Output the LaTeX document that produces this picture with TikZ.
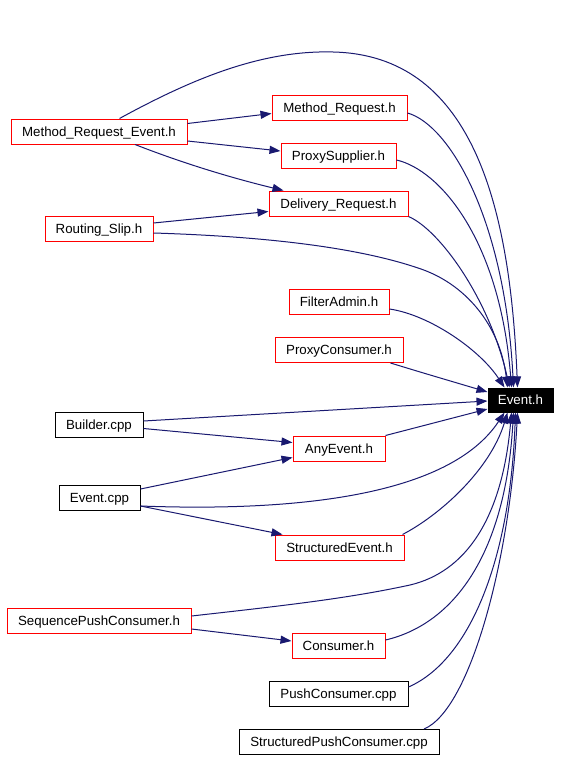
\documentclass[tikz,border=0pt]{standalone}
\usepackage{fontspec}
\setmainfont{Liberation Sans}
\usetikzlibrary{arrows.meta,calc}
\definecolor{edgeblue}{HTML}{191970}
\definecolor{boxred}{HTML}{FF0000}
\tikzset{
  filebox/.style={draw=black,line width=1pt,minimum height=25pt,inner sep=0pt,
    text height=9.5pt,text depth=0pt,
    font=\fontsize{13.3}{16}\selectfont,text=black,fill=white},
  redbox/.style={filebox,draw=boxred},
  mainbox/.style={filebox,fill=black,text=white,draw=black},
  dep/.style={draw=edgeblue,line width=1pt,-{Triangle[length=11pt,width=8pt]},fill=none}
}
\begin{document}
\begin{tikzpicture}[x=1pt,y=-1pt]
\useasboundingbox[fill=white] (0,0) rectangle (560,760);
% nodes
\node[redbox,minimum width=176pt] (mre) at (99,131.5) {Method\_Request\_Event.h};
\node[redbox,minimum width=135pt] (mr) at (339.5,107.5) {Method\_Request.h};
\node[redbox,minimum width=115pt] (ps) at (338.5,155.5) {ProxySupplier.h};
\node[redbox,minimum width=139pt] (dr) at (338.5,203.5) {Delivery\_Request.h};
\node[redbox,minimum width=108pt] (rs) at (99,228.5) {Routing\_Slip.h};
\node[redbox,minimum width=100pt] (fa) at (339,302) {FilterAdmin.h};
\node[redbox,minimum width=128pt] (pc) at (339,350) {ProxyConsumer.h};
\node[mainbox,minimum width=65pt,minimum height=24pt] (ev) at (520.5,400) {Event.h};
\node[filebox,minimum width=88pt] (bc) at (99,424.5) {Builder.cpp};
\node[redbox,minimum width=92pt] (ae) at (339,448.5) {AnyEvent.h};
\node[filebox,minimum width=81pt] (ec) at (99.5,498) {Event.cpp};
\node[redbox,minimum width=129pt] (se) at (339.5,547.5) {StructuredEvent.h};
\node[redbox,minimum width=184pt] (spc) at (99,620.5) {SequencePushConsumer.h};
\node[redbox,minimum width=93pt] (co) at (338.5,646) {Consumer.h};
\node[filebox,minimum width=139pt] (pu) at (338.5,694) {PushConsumer.cpp};
\node[filebox,minimum width=200pt] (spu) at (339,742) {StructuredPushConsumer.cpp};
% short edges
\draw[dep] ($(mre.east)+(0,-8)$) -- ($(mr.west)+(0,6)$);
\draw[dep] ($(mre.east)+(0,9.5)$) -- ($(ps.west)+(0,-4.5)$);
\draw[dep] ($(mre.south)+(36,0)$) .. controls (190,166) and (240,180) .. ($(dr.north west)+(15,0)$);
\draw[dep] ($(rs.east)+(0,-5.5)$) -- ($(dr.west)+(0,8)$);
\draw[dep] ($(bc.east)+(0,4)$) -- ($(ae.west)+(0,-6)$);
\draw[dep] ($(ec.east)+(0,-9)$) -- ($(ae.west)+(0,9)$);
\draw[dep] ($(ec.east)+(0,8)$) -- ($(se.north west)+(8,0)$);
\draw[dep] ($(spc.east)+(0,8.5)$) -- ($(co.west)+(0,-5)$);
% edges to Event.h (top)
\draw[dep] ($(mre.north west)+(109,0)$) .. controls (190,80) and (260,50) .. (333,52)
  .. controls (470,55) and (510,200) .. ($(ev.north west)+(30,0)$);
\draw[dep] ($(mr.east)+(0,5.5)$) .. controls (450,125) and (505,220) .. ($(ev.north west)+(26,0)$);
\draw[dep] ($(ps.east)+(0,4.5)$) .. controls (440,170) and (500,240) .. ($(ev.north west)+(24,0)$);
\draw[dep] (dr.south east) .. controls (440,230) and (490,300) .. ($(ev.north west)+(22,0)$);
\draw[dep] ($(rs.east)+(0,4.5)$) .. controls (250,236) and (350,245) .. (418,268)
  .. controls (465,283) and (500,325) .. ($(ev.north west)+(20,0)$);
\draw[dep] ($(fa.east)+(0,7)$) .. controls (430,315) and (480,350) .. ($(ev.north west)+(17,0)$);
\draw[dep] ($(pc.south east)+(-13,0)$) .. controls (420,372) .. ($(ev.west)+(0,-8)$);
% edges to Event.h (left, bottom)
\draw[dep] ($(bc.east)+(0,-3.5)$) -- ($(ev.west)+(0,1)$);
\draw[dep] (ae.north east) -- ($(ev.west)+(0,9)$);
\draw[dep] ($(ec.east)+(0,8)$) .. controls (300,512) and (450,495) .. ($(ev.south west)+(17,0)$);
\draw[dep] ($(se.north east)+(-2,0)$) .. controls (440,515) and (490,470) .. ($(ev.south west)+(20,0)$);
\draw[dep] ($(spc.east)+(0,-4.5)$) .. controls (290,605) and (350,598) .. (410,585)
  .. controls (465,572) and (502,520) .. ($(ev.south west)+(24,0)$);
\draw[dep] ($(co.east)+(0,-6)$) .. controls (450,625) and (505,560) .. ($(ev.south west)+(26,0)$);
\draw[dep] ($(pu.east)+(0,-7)$) .. controls (470,660) and (510,560) .. ($(ev.south west)+(28,0)$);
\draw[dep] ($(spu.north)+(85,0)$) .. controls (470,710) and (510,560) .. ($(ev.south west)+(30,0)$);
\end{tikzpicture}
\end{document}
